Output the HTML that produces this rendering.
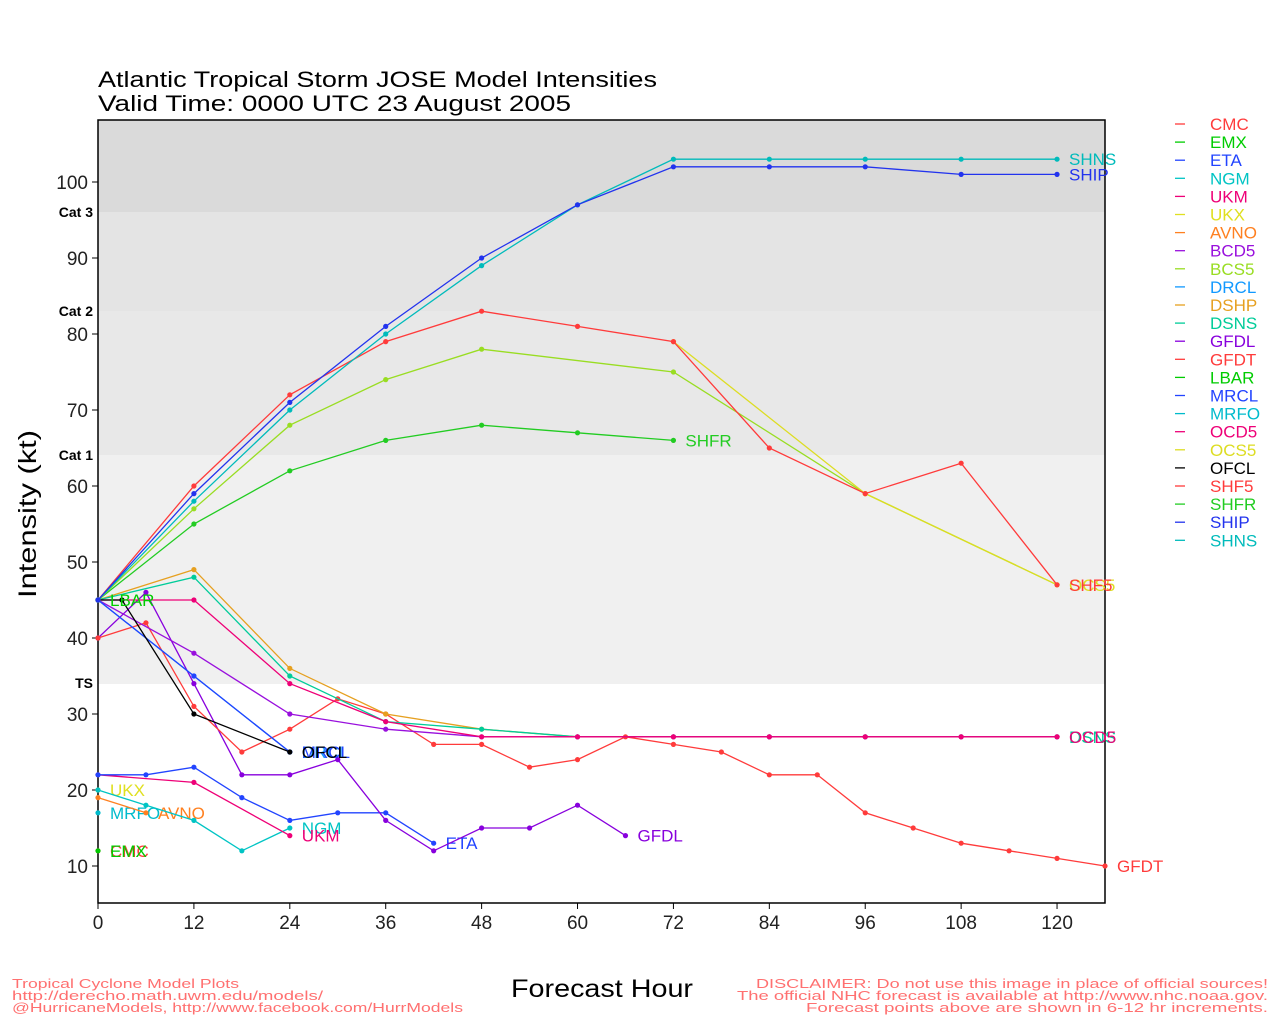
<!DOCTYPE html>
<html><head><meta charset="utf-8"><style>
body{margin:0;background:#fff}
svg text{font-family:"Liberation Sans",sans-serif}
</style></head><body>
<svg id="s" width="1280" height="1024" xmlns="http://www.w3.org/2000/svg">
<rect width="1280" height="1024" fill="#fff"/>
<rect x="98" y="120" width="1007" height="93" fill="#dadada"/>
<rect x="98" y="212" width="1007" height="99" fill="#e4e4e4"/>
<rect x="98" y="311" width="1007" height="145" fill="#e8e8e8"/>
<rect x="98" y="455" width="1007" height="229" fill="#f0f0f0"/>
<rect x="98" y="120" width="1007" height="783" fill="none" stroke="#000" stroke-width="1.5"/>
<text x="98" y="87" font-size="22" textLength="559" lengthAdjust="spacingAndGlyphs">Atlantic Tropical Storm JOSE Model Intensities</text>
<text x="98" y="111" font-size="22" textLength="473" lengthAdjust="spacingAndGlyphs">Valid Time: 0000 UTC 23 August 2005</text>
<g font-size="14" font-weight="bold" text-anchor="end">
<text x="93" y="217">Cat 3</text><text x="93" y="316">Cat 2</text><text x="93" y="460">Cat 1</text><text x="93" y="688">TS</text></g>
<text transform="translate(36,514) rotate(-90)" font-size="25" text-anchor="middle" textLength="168" lengthAdjust="spacingAndGlyphs">Intensity (kt)</text>
<text x="511" y="997" font-size="25" textLength="182" lengthAdjust="spacingAndGlyphs">Forecast Hour</text>
<g font-size="13" fill="#ff7070"><text x="12" y="988" textLength="227" lengthAdjust="spacingAndGlyphs">Tropical Cyclone Model Plots</text><text x="12" y="1000" textLength="311" lengthAdjust="spacingAndGlyphs">http://derecho.math.uwm.edu/models/</text><text x="12" y="1012" textLength="451" lengthAdjust="spacingAndGlyphs">@HurricaneModels, http://www.facebook.com/HurrModels</text>
<text x="756" y="988" textLength="512" lengthAdjust="spacingAndGlyphs">DISCLAIMER: Do not use this image in place of official sources!</text><text x="737" y="1000" textLength="531" lengthAdjust="spacingAndGlyphs">The official NHC forecast is available at http://www.nhc.noaa.gov.</text><text x="806" y="1012" textLength="462" lengthAdjust="spacingAndGlyphs">Forecast points above are shown in 6-12 hr increments.</text></g>
<g id="ax"></g><g id="ser"></g><g id="leg"></g>
</svg>
<script>
const X=h=>98+h*7.992, Y=v=>866-(v-10)*7.6;
const ns="http://www.w3.org/2000/svg";
function el(p,t,a,txt){const e=document.createElementNS(ns,t);for(const k in a)e.setAttribute(k,a[k]);if(txt!==undefined)e.textContent=txt;document.getElementById(p).appendChild(e);return e;}
for(let v=10;v<=100;v+=10){el("ax","line",{x1:92,x2:98,y1:Y(v),y2:Y(v),stroke:"#000"});el("ax","text",{x:88,y:Y(v)+7,"font-size":19,"text-anchor":"end",fill:"#222"},v);}
for(let h=0;h<=120;h+=12){el("ax","line",{x1:X(h),x2:X(h),y1:903,y2:909,stroke:"#000"});el("ax","text",{x:X(h),y:929,"font-size":19,"text-anchor":"middle",fill:"#222"},h);}
const C={CMC:"#ff3b3b",EMX:"#00cc00",ETA:"#2244ff",NGM:"#00c4c4",UKM:"#ee0077",UKX:"#e0e020",AVNO:"#ff8020",BCD5:"#9910dd",BCS5:"#99dd22",DRCL:"#1199ff",DSHP:"#e6a020",DSNS:"#00cc99",GFDL:"#8800dd",GFDT:"#ff3b3b",LBAR:"#00cc00",MRCL:"#2244ff",MRFO:"#00bbcc",OCD5:"#ee0077",OCS5:"#dddd22",OFCL:"#000000",SHF5:"#ff3b3b",SHFR:"#22cc22",SHIP:"#2233ee",SHNS:"#00bbbb"};
const S=[
["CMC",[[0,12]],1],["EMX",[[0,12]],1],
["MRFO",[[0,17]],1],["UKX",[[0,20]],1],
["AVNO",[[0,19],[6,17]],1],
["NGM",[[0,20],[6,18],[12,16],[18,12],[24,15]],1],
["UKM",[[0,22],[12,21],[24,14]],1],
["ETA",[[0,22],[6,22],[12,23],[18,19],[24,16],[30,17],[36,17],[42,13]],1],
["GFDL",[[0,40],[6,46],[12,34],[18,22],[24,22],[30,24],[36,16],[42,12],[48,15],[54,15],[60,18],[66,14]],1],
["GFDT",[[0,40],[6,42],[12,31],[18,25],[24,28],[30,32],[36,30],[42,26],[48,26],[54,23],[60,24],[66,27],[72,26],[78,25],[84,22],[90,22],[96,17],[102,15],[108,13],[114,12],[120,11],[126,10]],1],
["DSHP",[[0,45],[12,49],[24,36],[36,30],[48,28],[60,27],[72,27],[84,27],[96,27],[108,27],[120,27]],0],
["DSNS",[[0,45],[12,48],[24,35],[36,29],[48,28],[60,27],[72,27],[84,27],[96,27],[108,27],[120,27]],1],
["BCD5",[[0,45],[12,38],[24,30],[36,28],[48,27],[60,27],[72,27],[84,27],[96,27],[108,27],[120,27]],0],
["OCD5",[[0,45],[12,45],[24,34],[36,29],[48,27],[60,27],[72,27],[84,27],[96,27],[108,27],[120,27]],1],
["DRCL",[[0,45],[12,35],[24,25]],1],["MRCL",[[0,45],[12,35],[24,25]],1],
["OFCL",[[0,45],[3,45],[12,30],[24,25]],1],
["LBAR",[[0,45]],1],
["SHFR",[[0,45],[12,55],[24,62],[36,66],[48,68],[60,67],[72,66]],1],
["BCS5",[[0,45],[12,57],[24,68],[36,74],[48,78],[72,75],[96,59],[120,47]],0],
["OCS5",[[72,79],[96,59],[120,47]],1],
["SHF5",[[0,45],[12,60],[24,72],[36,79],[48,83],[60,81],[72,79],[84,65],[96,59],[108,63],[120,47]],1],
["SHNS",[[0,45],[12,58],[24,70],[36,80],[48,89],[60,97],[72,103],[84,103],[96,103],[108,103],[120,103]],1],
["SHIP",[[0,45],[12,59],[24,71],[36,81],[48,90],[60,97],[72,102],[84,102],[96,102],[108,101],[120,101]],1]];
for(const [n,p,lab] of S){const c=C[n];
 if(p.length>1)el("ser","polyline",{points:p.map(q=>X(q[0])+","+Y(q[1])).join(" "),fill:"none",stroke:c,"stroke-width":1.3});
 for(const q of p)el("ser","circle",{cx:X(q[0]),cy:Y(q[1]),r:2.6,fill:c});
 if(lab){const l=p[p.length-1];el("ser","text",{x:X(l[0])+12,y:Y(l[1])+6,"font-size":17,fill:c},n);}
}
const names=Object.keys(C);
names.forEach((n,i)=>{const y=124+i*18.1;el("leg","line",{x1:1175,x2:1185,y1:y,y2:y,stroke:C[n],"stroke-width":1.3});el("leg","text",{x:1210,y:y+6,"font-size":17,fill:C[n]},n);});
</script>
</body></html>
